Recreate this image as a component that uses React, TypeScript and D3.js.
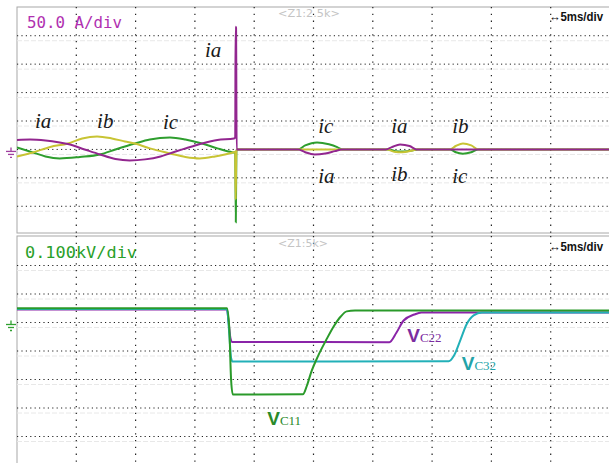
import React from "react";
import * as d3 from "d3";

// time in ms, currents in A
const iaData: [number, number][] = [
  [0, 16.7], [1.1, 17.5], [2.4, 15.8], [3.6, 12.3], [4.3, 9.6], [5.7, 0], [7.0, -8.8],
  [8.3, -16.7], [9.5, -19.3], [10.8, -17.5], [12.1, -12.3], [12.9, -7], [14.2, 1.8],
  [15.6, 10.5], [16.9, 16.7], [18.3, 19.3], [18.4, 21], [18.43, 216], [18.47, 214],
  [18.52, 0], [23.7, 0], [24.3, -5], [25.1, -8.8], [26.0, -7], [26.8, -3], [27.4, 0],
  [31.1, 0], [31.6, 4], [32.3, 8.8], [33.1, 6], [33.7, 0], [50, 0],
];
const ibData: [number, number][] = [
  [0, -12.3], [1.35, -5.3], [2.8, 4.4], [4.3, 10.5], [5.5, 19.3], [6.75, 22.8], [8.0, 19.3],
  [9.1, 14], [9.95, 10.5], [11.2, 1.8], [12.9, -7], [14.2, -13.2], [15.4, -15.8],
  [16.7, -12.3], [18.2, -5.3], [18.4, -4], [18.44, -88], [18.49, -4], [18.55, 0],
  [31.2, 0], [31.8, -4], [32.5, -5], [33.2, -2.5], [33.7, 0], [36.5, 0], [37.0, 6],
  [37.6, 10.5], [38.3, 7], [38.9, 0], [50, 0],
];
const icData: [number, number][] = [
  [0, 3.5], [1.35, -5.3], [2.4, -12.3], [3.6, -15.8], [5.3, -13.2], [7.0, -8.8], [8.3, 0],
  [9.95, 10.5], [11.2, 17.5], [12.9, 21], [14.2, 17.5], [15.6, 10.5], [16.9, 1.8],
  [18.2, -5.3], [18.4, -6], [18.45, -128], [18.5, -3], [18.55, 0], [23.7, 0], [24.3, 7],
  [25.3, 12.3], [26.3, 9], [27.0, 4], [27.4, 0], [31.3, 0], [31.9, -3], [32.6, -3.5],
  [33.3, -2], [33.8, 0], [36.5, 0], [37.0, -5], [37.6, -7.5], [38.3, -5], [38.9, 0], [50, 0],
];

// time in ms, capacitor voltages in kV
const vc11Data: [number, number][] = [
  [0, 0.05], [17.7, 0.05], [17.9, -0.02], [18.05, -0.2], [18.2, -0.253], [24.1, -0.252],
  [24.45, -0.221], [24.8, -0.175], [25.4, -0.116], [26.05, -0.063], [26.7, -0.014],
  [27.3, 0.021], [27.8, 0.039], [28.5, 0.042], [50, 0.042],
];
const vc22Data: [number, number][] = [
  [0, 0.046], [17.7, 0.046], [17.85, 0], [18.0, -0.055], [18.15, -0.068], [31.4, -0.069],
  [32.0, -0.035], [32.6, 0.007], [33.5, 0.028], [34.1, 0.035], [50, 0.035],
];
const vc32Data: [number, number][] = [
  [0, 0.047], [17.7, 0.047], [17.9, -0.04], [18.05, -0.125], [18.2, -0.137], [36.4, -0.136],
  [36.85, -0.116], [37.4, -0.06], [37.9, -0.007], [38.5, 0.025], [39.2, 0.035], [50, 0.035],
];

// annotation labels, placed in data coordinates
const currentLabels = [
  { sub: "a", t: 1.52, v: 37.6 },
  { sub: "b", t: 6.75, v: 37.6 },
  { sub: "c", t: 12.3, v: 35.9 },
  { sub: "a", t: 15.85, v: 162.5 },
  { sub: "c", t: 25.4, v: 28.8 },
  { sub: "a", t: 25.4, v: -59 },
  { sub: "a", t: 31.55, v: 28.8 },
  { sub: "b", t: 31.55, v: -55.6 },
  { sub: "b", t: 36.7, v: 28.8 },
  { sub: "c", t: 36.7, v: -59 },
];
const voltageLabels = [
  { sub: "C11", t: 21.1, v: -0.36, color: "#2a8a2a" },
  { sub: "C22", t: 32.9, v: -0.068, color: "#7b2ca0" },
  { sub: "C32", t: 37.5, v: -0.167, color: "#23a3a8" },
];

const timeTicks = d3.range(0, 55, 5);
const currentTicks = d3.range(-150, 300, 50);
const voltageTicks = d3.range(-0.5, 0.35, 0.1);

const W = 609;
const H = 463;

const x = d3.scaleLinear().domain([0, 50]).range([17, 610]);
const yI = d3.scaleLinear().domain([-150, 250]).range([234.7, 7.3]);
const yV = d3.scaleLinear().domain([-0.5, 0.3]).range([465, 237]);

const lineI = d3
  .line<[number, number]>()
  .x((d) => x(d[0]))
  .y((d) => yI(d[1]))
  .curve(d3.curveMonotoneX);
const lineV = d3
  .line<[number, number]>()
  .x((d) => x(d[0]))
  .y((d) => yV(d[1]))
  .curve(d3.curveMonotoneX);

const Ground = ({ y0, color }: { y0: number; color: string }) => (
  <g stroke={color} strokeWidth={1.3}>
    <line x1={11} x2={11} y1={y0 - 2} y2={y0 + 2} />
    <line x1={6} x2={16} y1={y0 + 2} y2={y0 + 2} />
    <line x1={8} x2={14} y1={y0 + 5} y2={y0 + 5} />
    <line x1={10} x2={12} y1={y0 + 8} y2={y0 + 8} />
  </g>
);

const Grid = ({ top, bottom, ys }: { top: number; bottom: number; ys: number[] }) => (
  <g>
    {ys.map((y, i) => (
      <line key={"g" + i} x1={17} x2={610} y1={y + 5} y2={y + 5} stroke="#e8e8e8" strokeDasharray="5 2" />
    ))}
    {ys.map((y, i) => (
      <line key={"h" + i} x1={17} x2={610} y1={y} y2={y} stroke="#222" strokeWidth={1} strokeDasharray="1.2 3.2" />
    ))}
    {timeTicks.slice(1).map((t) => (
      <line key={"v" + t} x1={x(t)} x2={x(t)} y1={top} y2={bottom} stroke="#222" strokeWidth={1.2} strokeDasharray="1.3 5.5" />
    ))}
  </g>
);

export default function App() {
  const topYs = currentTicks.filter((v) => v > -150 && v < 250).map((v) => yI(v));
  const botYs = voltageTicks.filter((v) => v > -0.45 && v < 0.25).map((v) => yV(v));
  return (
    <svg
      width={W}
      height={H}
      style={{ position: "absolute", left: 0, top: 0, background: "#fff" }}
      fontFamily="DejaVu Sans"
    >
      <defs>
        <clipPath id="c1">
          <rect x={17} y={7} width={600} height={226} />
        </clipPath>
        <clipPath id="c2">
          <rect x={17} y={236} width={600} height={240} />
        </clipPath>
      </defs>
      <rect x={0} y={0} width={W} height={H} fill="#fff" />

      {/* top panel */}
      <rect x={17} y={7} width={600} height={226} fill="none" stroke="#a8a8a8" />
      <g clipPath="url(#c1)">
        <Grid top={7} bottom={233} ys={topYs} />
        <path d={lineI(icData) || ""} fill="none" stroke="#2e9e2e" strokeWidth={2} />
        <path d={lineI(ibData) || ""} fill="none" stroke="#c8c434" strokeWidth={2} />
        <path d={lineI(iaData) || ""} fill="none" stroke="#92268f" strokeWidth={2} />
      </g>
      <Ground y0={yI(0)} color="#a040a0" />
      <text x={27} y={28} fill="#b030b0" fontFamily="DejaVu Sans Mono" fontSize={15} textLength={95} lengthAdjust="spacingAndGlyphs">
        50.0 A/div
      </text>
      <text x={278} y={17} fill="#c4c4c4" fontSize={10} textLength={62} lengthAdjust="spacingAndGlyphs">
        {"<Z1:2.5k>"}
      </text>
      <text x={549} y={21} fill="#111" fontFamily="Liberation Sans" fontWeight="bold" fontSize={13} textLength={54} lengthAdjust="spacingAndGlyphs">
        ↔5ms/div
      </text>
      {currentLabels.map((l, i) => (
        <text key={i} x={x(l.t)} y={yI(l.v)} fontFamily="Liberation Serif" fontStyle="italic" fontSize={21} fill="#1a1a1a">
          i{l.sub}
        </text>
      ))}

      {/* bottom panel */}
      <rect x={17} y={236} width={600} height={240} fill="none" stroke="#a8a8a8" />
      <g clipPath="url(#c2)">
        <Grid top={236} bottom={463} ys={botYs} />
        <path d={lineV(vc22Data) || ""} fill="none" stroke="#8a24a8" strokeWidth={2} />
        <path d={lineV(vc32Data) || ""} fill="none" stroke="#22b0b8" strokeWidth={2} />
        <path d={lineV(vc11Data) || ""} fill="none" stroke="#2a9a2a" strokeWidth={2} />
      </g>
      <Ground y0={yV(0)} color="#30a030" />
      <text x={25} y={258} fill="#2aa02a" fontFamily="DejaVu Sans Mono" fontSize={15} textLength={112} lengthAdjust="spacingAndGlyphs">
        0.100kV/div
      </text>
      <text x={278} y={247} fill="#c4c4c4" fontSize={10} textLength={50} lengthAdjust="spacingAndGlyphs">
        {"<Z1:5k>"}
      </text>
      <text x={549} y={251} fill="#111" fontFamily="Liberation Sans" fontWeight="bold" fontSize={13} textLength={54} lengthAdjust="spacingAndGlyphs">
        ↔5ms/div
      </text>
      {voltageLabels.map((l, i) => (
        <text key={i} x={x(l.t)} y={yV(l.v)} fill={l.color}>
          <tspan fontFamily="Liberation Sans" fontWeight="bold" fontSize={19}>V</tspan>
          <tspan fontFamily="Liberation Serif" fontSize={13}>{l.sub}</tspan>
        </text>
      ))}
    </svg>
  );
}
